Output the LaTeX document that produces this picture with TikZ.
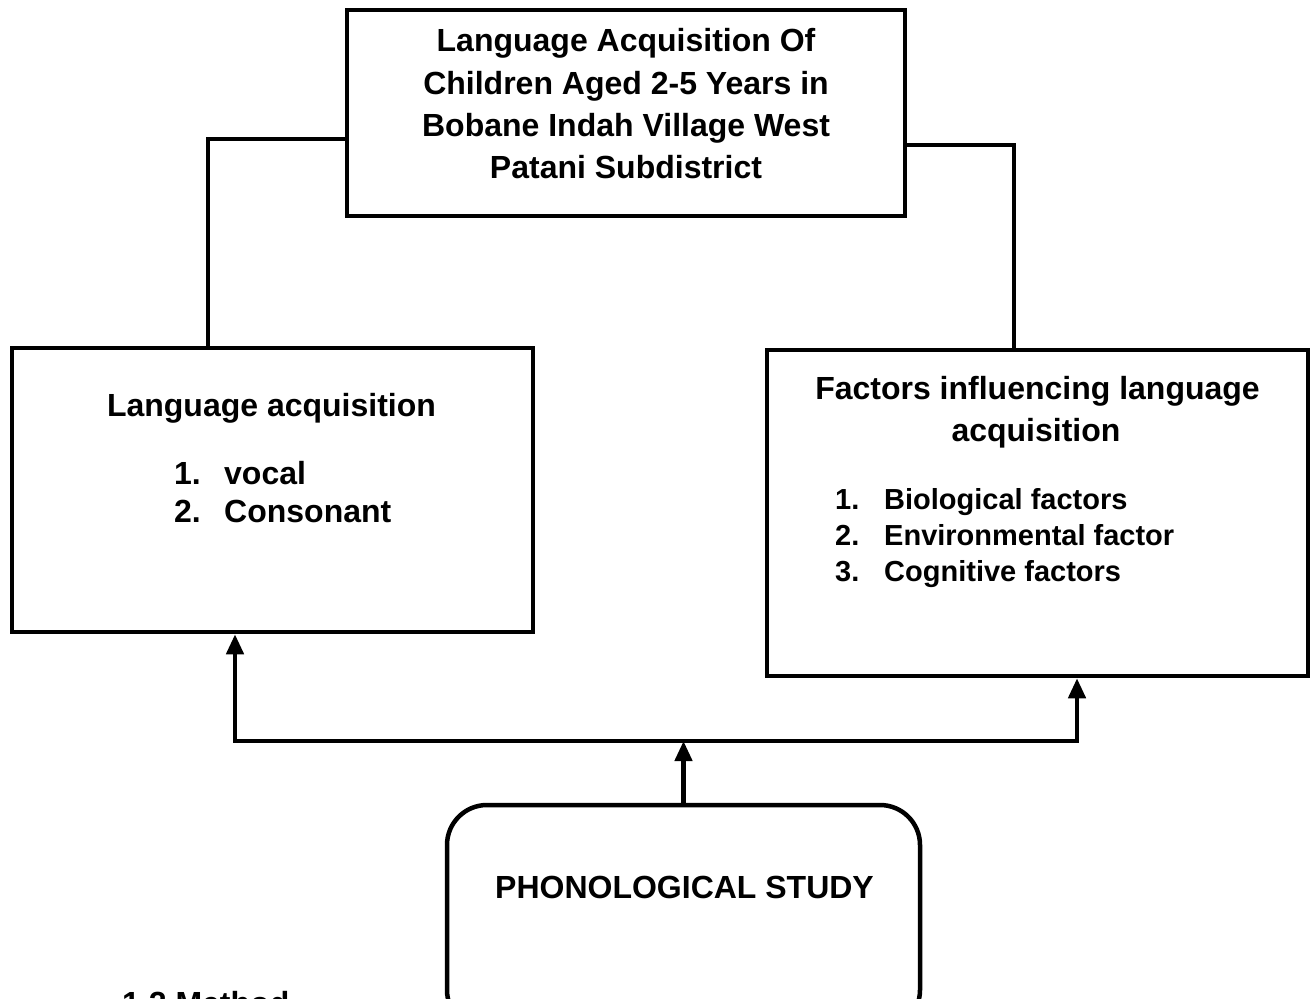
\documentclass[tikz,border=0pt]{standalone}
\usepackage{fontspec}
\setmainfont{Liberation Sans}
\usetikzlibrary{arrows.meta}
\begin{document}
\begin{tikzpicture}[x=1pt,y=-1pt,
  box/.style={draw,line width=4.5pt,rectangle,inner sep=0pt},
  conn/.style={line width=4.5pt},
  arr/.style={line width=4.5pt,-{Triangle[length=20pt,width=17pt]}},
  big/.style={font=\bfseries\fontsize{32}{38}\selectfont,inner sep=0pt},
  small/.style={font=\bfseries\fontsize{29}{35}\selectfont,inner sep=0pt}]
\useasboundingbox (0,0) rectangle (1316,998);
\clip (0,0) rectangle (1316,998);
% boxes
\node[box,minimum width=558pt,minimum height=206pt] (top) at (626,113) {};
\node[box,minimum width=521pt,minimum height=284pt] (left) at (272.5,490) {};
\node[box,minimum width=541pt,minimum height=326pt] (right) at (1037.5,513) {};
\node[box,rounded corners=40pt,minimum width=473pt,minimum height=225pt] (bottom) at (683.5,917.5) {};
% top box text
\node[big,anchor=base] (t1) at (626,52) {Language Acquisition Of};
\node[big,anchor=base] (t2) at (626,94) {Children Aged 2-5 Years in};
\node[big,anchor=base] (t3) at (626,136) {Bobane Indah Village West};
\node[big,anchor=base] (t4) at (626,178) {Patani Subdistrict};
% left box text
\node[big,anchor=base] (l0) at (271.5,416) {Language acquisition};
\node[big,anchor=base west] (l1n) at (174,484) {1.};
\node[big,anchor=base west] (l1) at (224,484) {vocal};
\node[big,anchor=base west] (l2n) at (174,522) {2.};
\node[big,anchor=base west] (l2) at (224,522) {Consonant};
% right box text
\node[big,anchor=base] (r0) at (1037.5,399) {Factors influencing language};
\node[big,anchor=base] (r0b) at (1036,441) {acquisition};
\node[small,anchor=base west] (r1n) at (835,509) {1.};
\node[small,anchor=base west] (r1) at (884,509) {Biological factors};
\node[small,anchor=base west] (r2n) at (835,545) {2.};
\node[small,anchor=base west] (r2) at (884,545) {Environmental factor};
\node[small,anchor=base west] (r3n) at (835,581) {3.};
\node[small,anchor=base west] (r3) at (884,581) {Cognitive factors};
% bottom box text
\node[big,anchor=base] (b0) at (684.5,898) {PHONOLOGICAL STUDY};
\node[big,anchor=base west] (meth) at (122,1014) {1.2 Method};
% top connectors
\coordinate (lj) at (208,139);
\coordinate (rj) at (1014,145);
\draw[conn] (top.west |- lj) -- (lj) -- (lj |- left.north);
\draw[conn] (top.east |- rj) -- (rj) -- (rj |- right.north);
% bottom connectors
\coordinate (hl) at (235,741);
\coordinate (hr) at (1077,741);
\draw[conn,line cap=rect] (hl) -- (hr);
\draw[arr] (hl) -- (hl |- left.south);
\draw[arr] (hr) -- (hr |- right.south);
\draw[arr] (bottom.north) -- (bottom.north |- hl);
\end{tikzpicture}
\end{document}
